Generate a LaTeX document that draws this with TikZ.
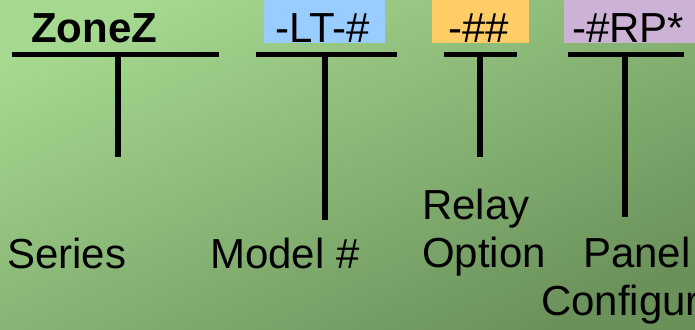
\documentclass[tikz,border=0pt]{standalone}
\usepackage{fontspec}
\setmainfont{Liberation Sans}
\begin{document}
\begin{tikzpicture}[x=1pt,y=-1pt,
  lbl/.style={anchor=base west,inner sep=0pt,font=\fontsize{42}{48}\selectfont,text=black},
  bar/.style={line width=5.5pt,black},
  tag/.style={draw=none}]
\definecolor{bgLight}{HTML}{A6D990}
\definecolor{bgDark}{HTML}{6A915A}
\definecolor{tagBlue}{HTML}{99CCFF}
\definecolor{tagOrange}{HTML}{FFCC66}
\definecolor{tagPurple}{HTML}{CCB3D6}
\useasboundingbox (0,0) rectangle (695,329);
\clip (0,0) rectangle (695,329);
\shade[left color=bgLight,right color=bgDark,shading angle=25] (-10,-10) rectangle (705,339);
% colored tag boxes
\fill[tagBlue] (264,-5) rectangle (385,43.3);
\fill[tagOrange] (432,-5) rectangle (529,43.3);
\fill[tagPurple] (564,-5) rectangle (700,43.3);
% top texts
\node[lbl,font=\fontsize{42}{48}\selectfont\bfseries] (zone) at (31,43) {ZoneZ};
\node[lbl] (lt) at (275,43) {-LT-\#};
\node[lbl] (relaycode) at (448,43) {-\#\#};
\node[lbl] (rp) at (572,43) {-\#RP*};
% bars
\coordinate (b1l) at (12,54.5); \coordinate (b1r) at (219,54.5);
\coordinate (b2l) at (256,54.5); \coordinate (b2r) at (397,54.5);
\coordinate (b3l) at (444,54.5); \coordinate (b3r) at (517,54.5);
\coordinate (b4l) at (568,54.5); \coordinate (b4r) at (684,54.5);
\draw[bar] (b1l) -- (b1r);
\draw[bar] (b2l) -- (b2r);
\draw[bar] (b3l) -- (b3r);
\draw[bar] (b4l) -- (b4r);
\coordinate (v1t) at (118,55); \coordinate (v1b) at (118,157);
\coordinate (v2t) at (325,55); \coordinate (v2b) at (325,220);
\coordinate (v3t) at (480,55); \coordinate (v3b) at (480,157);
\coordinate (v4t) at (625,55); \coordinate (v4b) at (625,217);
\draw[bar] (v1t) -- (v1b);
\draw[bar] (v2t) -- (v2b);
\draw[bar] (v3t) -- (v3b);
\draw[bar] (v4t) -- (v4b);
% bottom labels
\node[lbl] (series) at (7,268) {Series};
\node[lbl] (model) at (210,268) {Model \#};
\node[lbl,align=left,anchor=north west] (relay) at (422,188.5) {Relay\\Option};
\node[lbl,align=left,anchor=north west] (panel) at (541,236.5) {\hspace*{42pt}Panel\\Configuration};
\end{tikzpicture}
\end{document}
